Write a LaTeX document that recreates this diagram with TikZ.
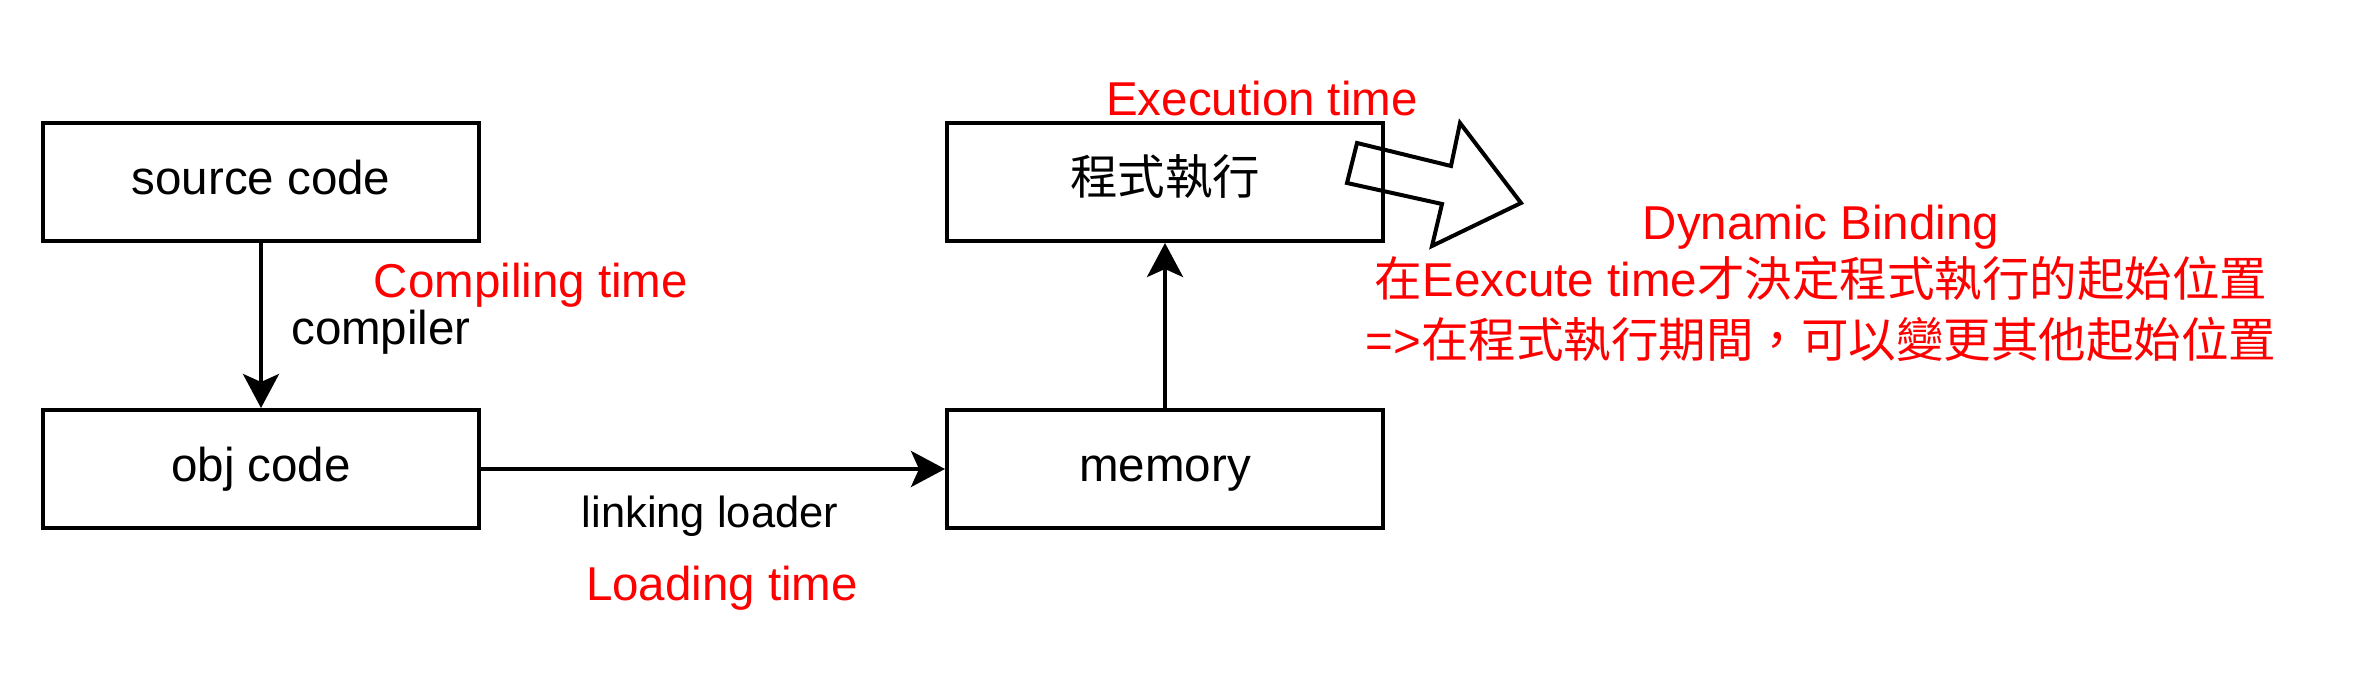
\documentclass[tikz,border=0pt]{standalone}
\usepackage{fontspec}
\setmainfont{Liberation Sans}
\newfontfamily\cjk{Noto Sans CJK TC}
\usetikzlibrary{arrows.meta}

\begin{document}
\begin{tikzpicture}[
    x=0.5pt, y=-0.5pt,
    every node/.style={font=\fontsize{23.75}{28}\selectfont, inner sep=0pt},
    box/.style={draw, line width=2pt, minimum width=218pt, minimum height=59pt,
        text height=1.5em, text depth=0.2em},
    lbl/.style={anchor=base},
    timelbl/.style={anchor=base, text=red},
    flow/.style={draw, line width=2pt, -{Stealth[length=17pt, width=18pt, inset=4pt]}}
]
    \useasboundingbox (0,0) rectangle (2364,688);

    % stages
    \node[box] (src) at (261,182) {source code};
    \node[box] (obj) at (261,469) {obj code};
    \node[box] (mem) at (1165,469) {memory};
    \node[box] (run) at (1165,182) {\cjk 程式執行};

    \draw[flow] (src) -- (obj);
    \draw[flow] (obj) -- (mem);
    \draw[flow] (mem) -- (run);

    % labels
    \node[lbl] (compiler) at (381,345) {compiler};
    \node[lbl, font=\fontsize{21.75}{26}\selectfont] (linker) at (710,528) {linking loader};
    \node[timelbl] (ctime) at (531,298) {Compiling time};
    \node[timelbl] (ltime) at (722,601) {Loading time};
    \node[timelbl] (etime) at (1262,116) {Execution time};

    % hollow arrow
    \draw[line width=2pt, line join=miter] (1357,143) -- (1451,166) -- (1460,123)
        -- (1521,203) -- (1432,246) -- (1442,204) -- (1347,183) -- cycle;

    % dynamic binding note
    \node[timelbl] (dyn) at (1821,240) {Dynamic Binding};
    \node[timelbl] (dyn2) at (1821,297) {{\cjk 在}Eexcute time{\cjk 才決定程式執行的起始位置}};
    \node[timelbl] (dyn3) at (1821,358) {=>{\cjk 在程式執行期間，可以變更其他起始位置}};
\end{tikzpicture}
\end{document}
